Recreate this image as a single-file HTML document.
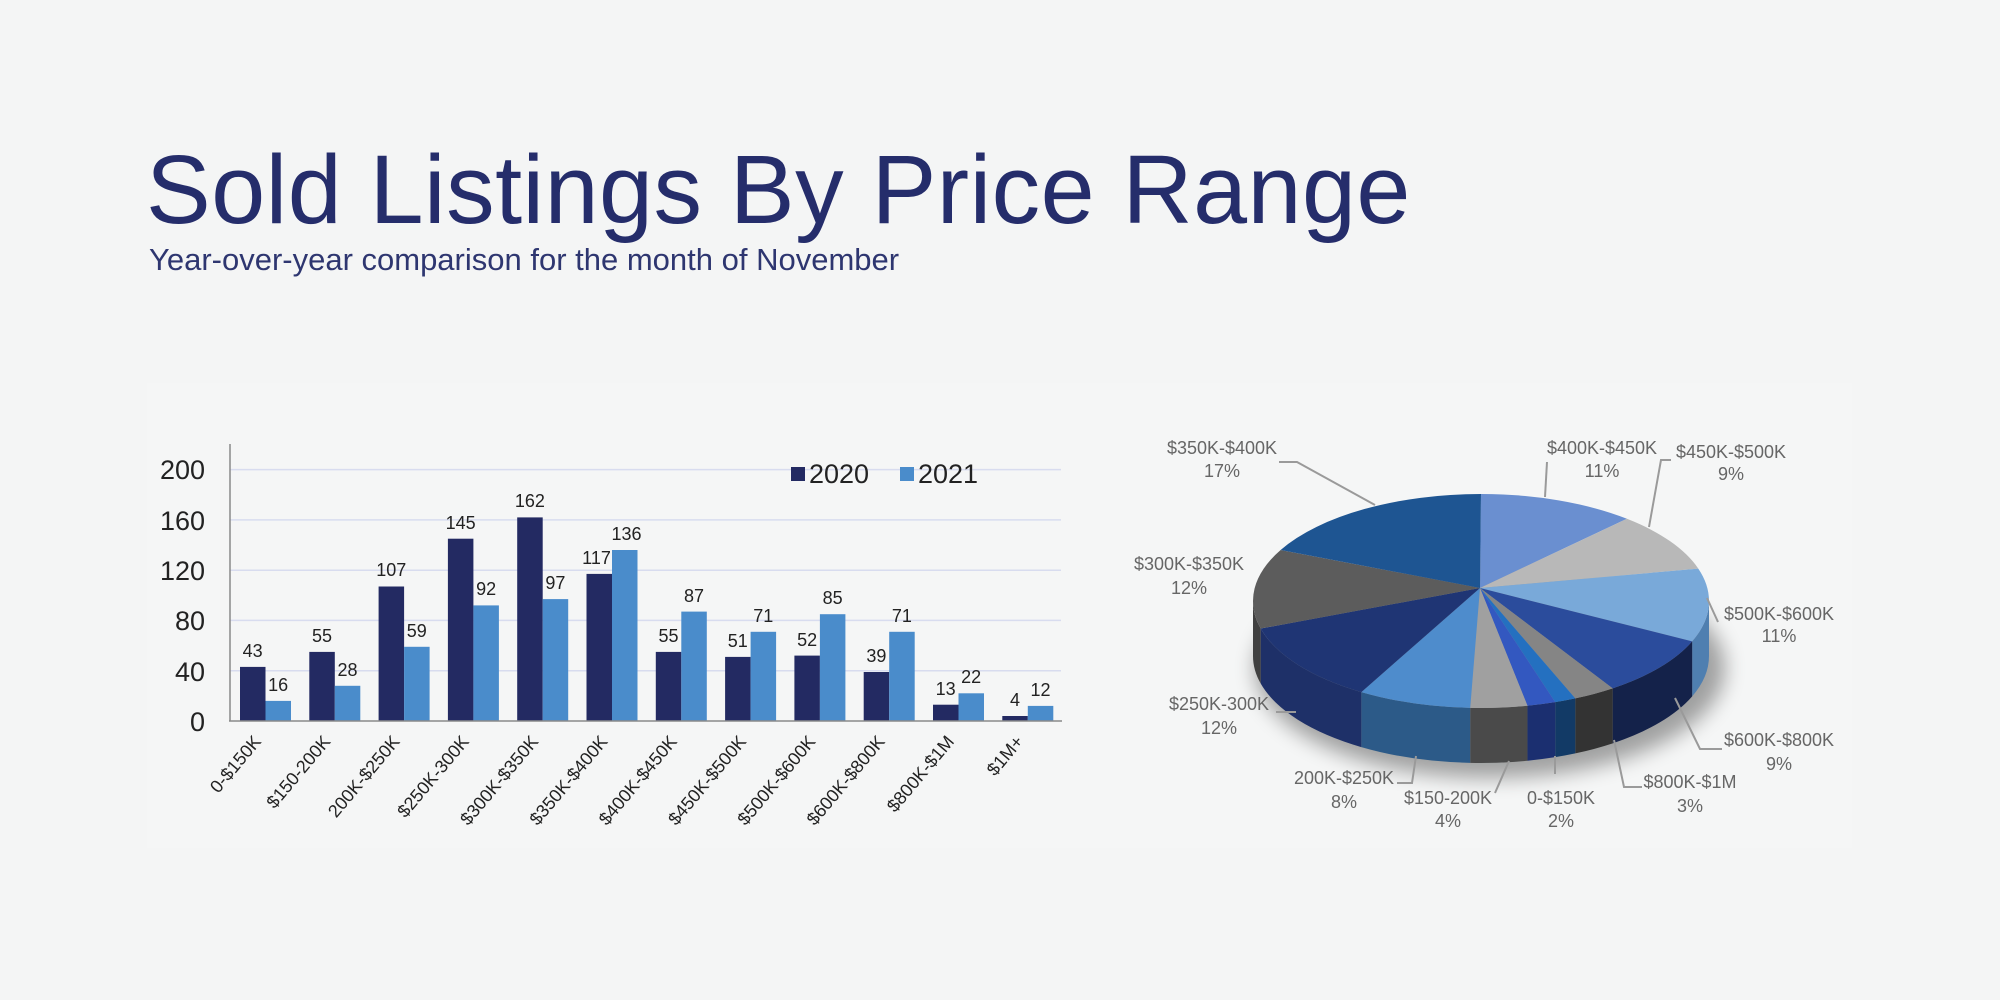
<!DOCTYPE html>
<html><head><meta charset="utf-8"><style>
html,body{margin:0;padding:0;background:#f4f5f5;}
body{width:2000px;height:1000px;position:relative;overflow:hidden;font-family:"Liberation Sans",sans-serif;}
.t{position:absolute;left:146px;top:134px;font-size:97px;color:#252d6b;letter-spacing:0.5px;white-space:nowrap;}
.s{position:absolute;left:149px;top:242px;font-size:31px;color:#2e3670;white-space:nowrap;}
svg{position:absolute;left:0;top:0;}
</style></head><body>
<div class="t">Sold Listings By Price Range</div>
<div class="s">Year-over-year comparison for the month of November</div>
<svg width="2000" height="1000" viewBox="0 0 2000 1000">
<defs><filter id="bl" x="-20%" y="-50%" width="140%" height="200%"><feGaussianBlur stdDeviation="10"/></filter></defs>
<rect x="147" y="383" width="1705" height="465" fill="#f5f6f6"/>
<g stroke="#d8dcef" stroke-width="1.5">
<line x1="230" y1="670.7" x2="1061" y2="670.7"/><line x1="230" y1="620.4" x2="1061" y2="620.4"/>
<line x1="230" y1="570.2" x2="1061" y2="570.2"/><line x1="230" y1="519.9" x2="1061" y2="519.9"/>
<line x1="230" y1="469.6" x2="1061" y2="469.6"/></g>
<g font-size="27" fill="#222" text-anchor="end" font-family="Liberation Sans Narrow, Liberation Sans, sans-serif">
<text x="205" y="731">0</text><text x="205" y="681">40</text><text x="205" y="630">80</text><text x="205" y="580">120</text><text x="205" y="530">160</text><text x="205" y="479">200</text></g>
<g id="bars" font-family="Liberation Sans Narrow, Liberation Sans, sans-serif" font-size="18" text-anchor="middle" fill="#222">
<g transform="translate(230,0)"><rect x="10" y="666.9" width="25.5" height="54.1" fill="#232a62"/><rect x="35.5" y="700.9" width="25.5" height="20.1" fill="#4a8ccb"/><text x="22.7" y="657">43</text><text x="48.2" y="691">16</text><text transform="translate(32,742) rotate(-50)" text-anchor="end">0-$150K</text></g>
<g transform="translate(299.3,0)"><rect x="10" y="651.9" width="25.5" height="69.1" fill="#232a62"/><rect x="35.5" y="685.8" width="25.5" height="35.2" fill="#4a8ccb"/><text x="22.7" y="642">55</text><text x="48.2" y="676">28</text><text transform="translate(32,742) rotate(-50)" text-anchor="end">$150-200K</text></g>
<g transform="translate(368.6,0)"><rect x="10" y="586.5" width="25.5" height="134.5" fill="#232a62"/><rect x="35.5" y="646.8" width="25.5" height="74.2" fill="#4a8ccb"/><text x="22.7" y="576">107</text><text x="48.2" y="637">59</text><text transform="translate(32,742) rotate(-50)" text-anchor="end">200K-$250K</text></g>
<g transform="translate(437.9,0)"><rect x="10" y="538.7" width="25.5" height="182.3" fill="#232a62"/><rect x="35.5" y="605.4" width="25.5" height="115.6" fill="#4a8ccb"/><text x="22.7" y="529">145</text><text x="48.2" y="595">92</text><text transform="translate(32,742) rotate(-50)" text-anchor="end">$250K-300K</text></g>
<g transform="translate(507.2,0)"><rect x="10" y="517.4" width="25.5" height="203.6" fill="#232a62"/><rect x="35.5" y="599.1" width="25.5" height="121.9" fill="#4a8ccb"/><text x="22.7" y="507">162</text><text x="48.2" y="589">97</text><text transform="translate(32,742) rotate(-50)" text-anchor="end">$300K-$350K</text></g>
<g transform="translate(576.5,0)"><rect x="10" y="573.9" width="25.5" height="147.1" fill="#232a62"/><rect x="35.5" y="550" width="25.5" height="171" fill="#4a8ccb"/><text x="20" y="564">117</text><text x="50" y="540">136</text><text transform="translate(32,742) rotate(-50)" text-anchor="end">$350K-$400K</text></g>
<g transform="translate(645.8,0)"><rect x="10" y="651.9" width="25.5" height="69.1" fill="#232a62"/><rect x="35.5" y="611.6" width="25.5" height="109.4" fill="#4a8ccb"/><text x="22.7" y="642">55</text><text x="48.2" y="602">87</text><text transform="translate(32,742) rotate(-50)" text-anchor="end">$400K-$450K</text></g>
<g transform="translate(715.1,0)"><rect x="10" y="656.9" width="25.5" height="64.1" fill="#232a62"/><rect x="35.5" y="631.8" width="25.5" height="89.2" fill="#4a8ccb"/><text x="22.7" y="647">51</text><text x="48.2" y="622">71</text><text transform="translate(32,742) rotate(-50)" text-anchor="end">$450K-$500K</text></g>
<g transform="translate(784.4,0)"><rect x="10" y="655.6" width="25.5" height="65.4" fill="#232a62"/><rect x="35.5" y="614.2" width="25.5" height="106.8" fill="#4a8ccb"/><text x="22.7" y="646">52</text><text x="48.2" y="604">85</text><text transform="translate(32,742) rotate(-50)" text-anchor="end">$500K-$600K</text></g>
<g transform="translate(853.7,0)"><rect x="10" y="672" width="25.5" height="49" fill="#232a62"/><rect x="35.5" y="631.8" width="25.5" height="89.2" fill="#4a8ccb"/><text x="22.7" y="662">39</text><text x="48.2" y="622">71</text><text transform="translate(32,742) rotate(-50)" text-anchor="end">$600K-$800K</text></g>
<g transform="translate(923,0)"><rect x="10" y="704.7" width="25.5" height="16.3" fill="#232a62"/><rect x="35.5" y="693.3" width="25.5" height="27.7" fill="#4a8ccb"/><text x="22.7" y="695">13</text><text x="48.2" y="683">22</text><text transform="translate(32,742) rotate(-50)" text-anchor="end">$800K-$1M</text></g>
<g transform="translate(992.3,0)"><rect x="10" y="716" width="25.5" height="5" fill="#232a62"/><rect x="35.5" y="705.9" width="25.5" height="15.1" fill="#4a8ccb"/><text x="22.7" y="706">4</text><text x="48.2" y="696">12</text><text transform="translate(32,742) rotate(-50)" text-anchor="end">$1M+</text></g>
</g>
<line x1="230" y1="444" x2="230" y2="721" stroke="#8a8a8a" stroke-width="1.5"/>
<line x1="229" y1="721" x2="1062" y2="721" stroke="#8a8a8a" stroke-width="1.5"/>
<rect x="791" y="467" width="14" height="14" fill="#232a62"/>
<text x="809" y="483" font-size="27" fill="#222" font-family="Liberation Sans Narrow, Liberation Sans, sans-serif">2020</text>
<rect x="900" y="467" width="14" height="14" fill="#4a8ccb"/>
<text x="918" y="483" font-size="27" fill="#222" font-family="Liberation Sans Narrow, Liberation Sans, sans-serif">2021</text>

<ellipse cx="1490" cy="668" rx="235" ry="110" fill="#000" opacity="0.35" filter="url(#bl)"/>
<g id="pie"></g>
<g stroke="#9a9a9a" stroke-width="2" fill="none">
<polyline points="1279,462 1297,462 1375,505"/>
<polyline points="1547,462 1545,497"/>
<polyline points="1671,460 1661,460 1649,527"/>
<polyline points="1718,622 1707,598"/>
<polyline points="1722,749 1700,749 1675,698"/>
<polyline points="1642,787 1624,787 1614,740"/>
<polyline points="1555,774 1555,756"/>
<polyline points="1495,793 1509,761"/>
<polyline points="1397,783 1412,783 1416,756"/>
<polyline points="1276,712 1296,712"/>
</g>
<g font-size="18" fill="#666" text-anchor="middle" font-family="Liberation Sans Narrow, Liberation Sans, sans-serif">
<text x="1222" y="454">$350K-$400K</text><text x="1222" y="477">17%</text>
<text x="1602" y="454">$400K-$450K</text><text x="1602" y="477">11%</text>
<text x="1731" y="458">$450K-$500K</text><text x="1731" y="480">9%</text>
<text x="1779" y="620">$500K-$600K</text><text x="1779" y="642">11%</text>
<text x="1779" y="746">$600K-$800K</text><text x="1779" y="770">9%</text>
<text x="1690" y="788">$800K-$1M</text><text x="1690" y="812">3%</text>
<text x="1561" y="804">0-$150K</text><text x="1561" y="827">2%</text>
<text x="1448" y="804">$150-200K</text><text x="1448" y="827">4%</text>
<text x="1344" y="784">200K-$250K</text><text x="1344" y="808">8%</text>
<text x="1219" y="710">$250K-300K</text><text x="1219" y="734">12%</text>
<text x="1189" y="570">$300K-$350K</text><text x="1189" y="594">12%</text>
</g>
</svg>
<script>
(function(){
var cx=1481,cy=601,rx=228,ry=107,d=55,ax=1480,ay=588;
var s=[[11,"#6a8fd0","#4a6aa8"],[9,"#b8b8b8","#8a8a8a"],[11,"#79a9d9","#4f7fb0"],[9,"#2b4c9c","#14224a"],[3,"#858585","#333333"],[1.5,"#2470c0","#123a66"],[2,"#3358c0","#1b2f70"],[4,"#a0a0a0","#4a4a4a"],[8,"#4e8ccc","#2c5a88"],[12,"#1f3574","#1e3068"],[12,"#5c5c5c","#404040"],[17,"#1e5592","#153d6a"]];
var tot=0;s.forEach(function(a){tot+=a[0];});
function P(t,dy){return [cx+rx*Math.sin(t),cy-ry*Math.cos(t)+(dy||0)];}
var g=document.getElementById("pie"),sides="",tops="",a=0;
s.forEach(function(x){
 var b=a+x[0]/tot*2*Math.PI;
 var t1=Math.max(a,Math.PI/2),t2=Math.min(b,3*Math.PI/2);
 if(t2>t1){var p1=P(t1),p2=P(t2),q2=P(t2,d),q1=P(t1,d);
  sides+='<path fill="'+x[2]+'" d="M'+p1+' A'+rx+','+ry+' 0 0 1 '+p2+' L'+q2+' A'+rx+','+ry+' 0 0 0 '+q1+' Z"/>';}
 var A=P(a),B=P(b),lg=(b-a)>Math.PI?1:0;
 tops+='<path fill="'+x[1]+'" d="M'+ax+','+ay+' L'+A+' A'+rx+','+ry+' 0 '+lg+' 1 '+B+' Z"/>';
 a=b;});
g.innerHTML=sides+tops;
})();
</script>
</body></html>
